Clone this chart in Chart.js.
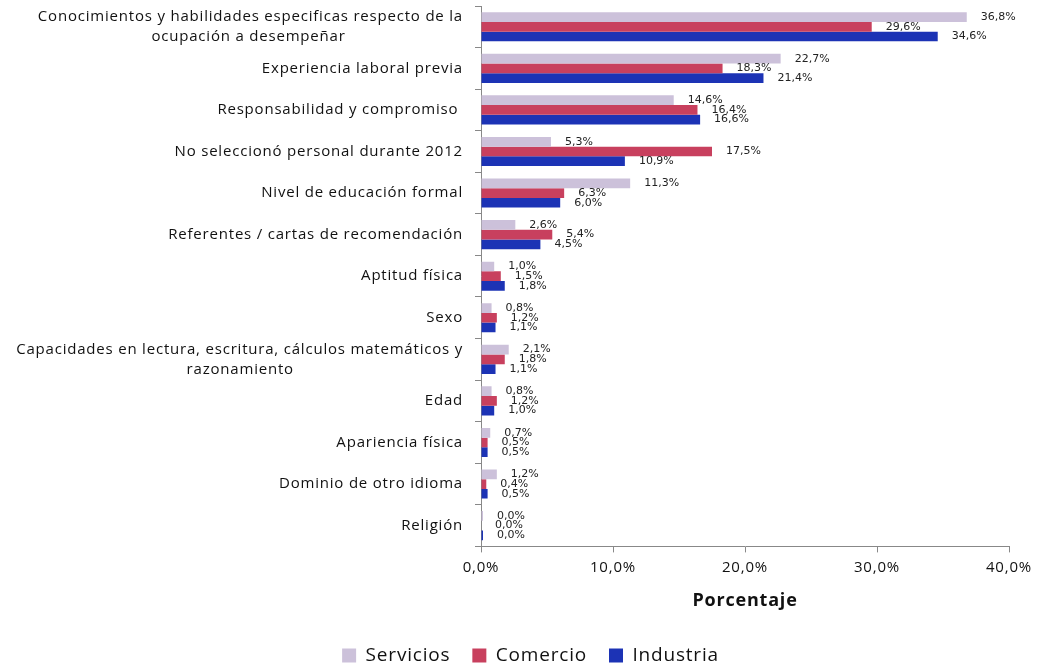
<!DOCTYPE html>
<html>
<head>
<meta charset="utf-8">
<script src="https://cdn.jsdelivr.net/npm/chart.js@4.4.1/dist/chart.umd.min.js"></script>
<style>
  html, body { margin: 0; padding: 0; background: #ffffff; }
  #wrap { width: 1042px; height: 668px; position: relative; }
</style>
</head>
<body>
<div id="wrap"><canvas id="c"></canvas></div>
<script>
const categories = [
  ["Conocimientos y habilidades especificas respecto de la", "ocupación a desempeñar"],
  "Experiencia laboral previa",
  "Responsabilidad y compromiso ",
  "No seleccionó personal durante 2012",
  "Nivel de educación formal",
  "Referentes / cartas de recomendación",
  "Aptitud física",
  "Sexo",
  ["Capacidades en lectura, escritura, cálculos matemáticos y", "razonamiento"],
  "Edad",
  "Apariencia física",
  "Dominio de otro idioma",
  "Religión"
];
const seriesNames = ["Servicios", "Comercio", "Industria"];
const servicios = [36.8, 22.7, 14.6, 5.3, 11.3, 2.6, 1.0, 0.8, 2.1, 0.8, 0.7, 1.2, 0.04];
const comercio  = [29.6, 18.3, 16.4, 17.5, 6.3, 5.4, 1.5, 1.2, 1.8, 1.2, 0.5, 0.4, 0.0];
const industria = [34.6, 21.4, 16.6, 10.9, 6.0, 4.5, 1.8, 1.1, 1.1, 1.0, 0.5, 0.5, 0.04];
const xTicks = [0, 10, 20, 30, 40];

const colors = ["#CCC1DA", "#C8405E", "#1C33B5"];
const labelFont = "'Open Sans', sans-serif";
const SPACING = '0.8px';

function fmt(v) { return v.toFixed(1).replace('.', ',') + '%'; }

// center multi-line labels relative to each other (block stays right-aligned)
const mctx = document.createElement('canvas').getContext('2d');
mctx.font = "15px " + labelFont;
mctx.letterSpacing = SPACING;
function centerLines(lbl) {
  if (!Array.isArray(lbl)) return lbl;
  const widths = lbl.map(s => mctx.measureText(s).width);
  const maxW = Math.max(...widths);
  const sp = mctx.measureText('\u00A0').width;
  return lbl.map((s, i) => s + '\u00A0'.repeat(Math.round((maxW - widths[i]) / 2 / sp)));
}

const spacingPlugin = {
  id: 'spacing',
  beforeUpdate(chart) { chart.ctx.letterSpacing = SPACING; },
  beforeLayout(chart) { chart.ctx.letterSpacing = SPACING; },
  afterLayout(chart) {
    // legend sits slightly right of canvas centre in the reference
    if (chart.legend) { chart.legend.left += 26; chart.legend.right += 26; }
  },
  beforeDraw(chart) { chart.ctx.letterSpacing = SPACING; }
};

const dataLabels = {
  id: 'dataLabels',
  afterDatasetsDraw(chart) {
    const ctx = chart.ctx;
    ctx.save();
    ctx.letterSpacing = '0px';
    ctx.font = "11px 'DejaVu Sans', sans-serif";
    ctx.fillStyle = '#222';
    ctx.textBaseline = 'middle';
    ctx.textAlign = 'left';
    chart.data.datasets.forEach((ds, di) => {
      const meta = chart.getDatasetMeta(di);
      meta.data.forEach((bar, i) => {
        ctx.fillText(fmt(ds.data[i]), bar.base + Math.abs(bar.x - bar.base) + 14, bar.y);
      });
    });
    ctx.restore();
  }
};

new Chart(document.getElementById('c'), {
  type: 'bar',
  data: {
    labels: categories,
    datasets: [
      { label: seriesNames[0], data: servicios, backgroundColor: colors[0], minBarLength: 2 },
      { label: seriesNames[1], data: comercio, backgroundColor: colors[1] },
      { label: seriesNames[2], data: industria, backgroundColor: colors[2], minBarLength: 2 }
    ]
  },
  options: {
    indexAxis: 'y',
    responsive: true,
    maintainAspectRatio: false,
    animation: false,
    datasets: { bar: { categoryPercentage: 0.7, barPercentage: 1.0 } },
    layout: { padding: { top: 6, right: 33, left: 0, bottom: -7 } },
    scales: {
      y: {
        type: 'category',
        offset: true,
        grid: { offset: true, drawOnChartArea: false, tickLength: 6, color: '#888', tickColor: '#888' },
        border: { color: '#888', width: 1 },
        ticks: {
          font: { family: labelFont, size: 15, lineHeight: 1.33 },
          color: '#111',
          padding: 12,
          autoSkip: false,
          callback: function(value, index) { return centerLines(categories[index]); }
        },
        afterFit(scale) { scale.width = 481; scale.paddingTop = 0; scale.paddingBottom = 0; }
      },
      x: {
        min: 0, max: 40,
        afterBuildTicks(scale) { scale.ticks = xTicks.map(v => ({ value: v })); },
        grid: { drawOnChartArea: false, tickLength: 6, color: '#888', tickColor: '#888' },
        border: { color: '#888', width: 1 },
        ticks: {
          font: { family: labelFont, size: 15 },
          color: '#111',
          padding: 6,
          maxRotation: 0,
          callback: v => fmt(v)
        },
        title: {
          display: true,
          text: 'Porcentaje',
          font: { family: labelFont, size: 18, weight: 'bold' },
          color: '#111',
          padding: { top: 8, bottom: 12 }
        },
        afterFit(scale) { scale.paddingLeft = 0; scale.paddingRight = 0; }
      }
    },
    plugins: {
      legend: {
        position: 'bottom',
        labels: {
          font: { family: labelFont, size: 19 },
          color: '#111',
          boxWidth: 14,
          boxHeight: 14,
          padding: 22
        }
      },
      tooltip: { enabled: false }
    }
  },
  plugins: [spacingPlugin, dataLabels]
});
</script>
</body>
</html>
